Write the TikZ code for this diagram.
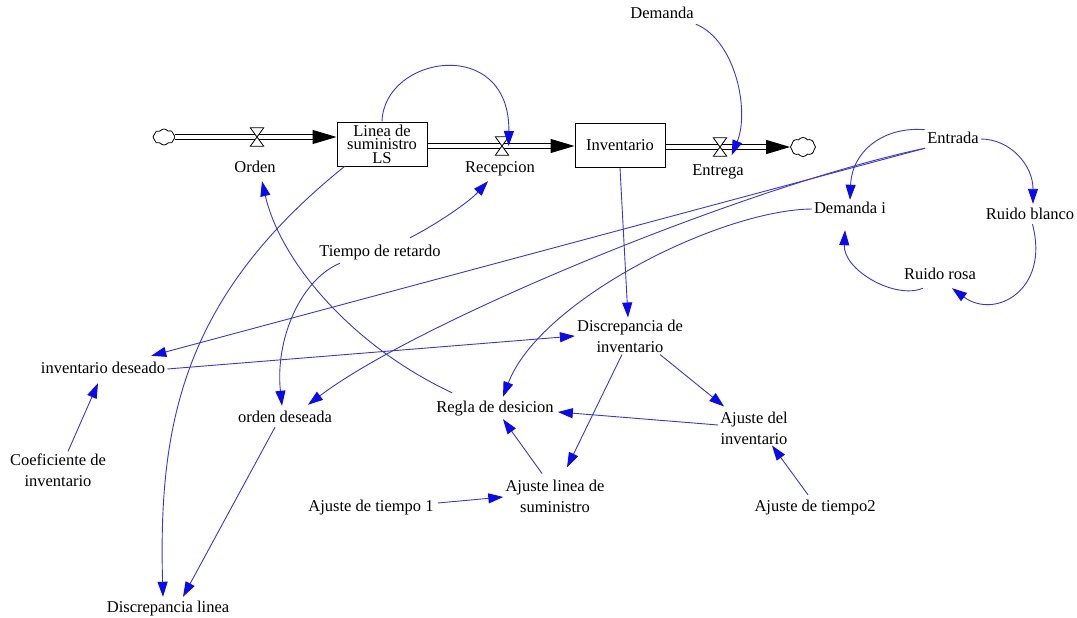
\documentclass[tikz,border=0pt]{standalone}
\usepackage{fontspec}
\setmainfont{Liberation Serif}
\usetikzlibrary{arrows.meta,calc,shapes.symbols}
\definecolor{linkline}{RGB}{55,55,225}
\definecolor{linkhead}{RGB}{10,10,240}
\begin{document}
\begin{tikzpicture}[x=1pt,y=-1pt,
  every node/.style={font=\fontsize{16.5}{21}\selectfont},
  var/.style={inner sep=2pt,text height=11pt,text depth=3pt},
  var2/.style={inner sep=2pt,align=center},
  stock/.style={draw=black,line width=1pt,fill=white,minimum width=90pt,minimum height=44pt,inner sep=0pt,align=center},
  valve/.style={minimum width=13pt,minimum height=18pt,inner sep=0pt},
  sink/.style={cloud,cloud puffs=8,cloud puff arc=110,draw=black,line width=0.8pt,fill=white,minimum width=22pt,minimum height=16pt,inner sep=0pt},
  pipe/.style={draw=black,line width=1.2pt,double=white,double distance=3.5pt,-{Triangle[length=24pt,width=14pt]}},
  link/.style={draw=linkline,line width=0.9pt,-{Triangle[length=15pt,width=10pt,color=linkhead]}},
  valvebody/.style={draw=black,line width=0.8pt,fill=white},
]
\fill[white] (0,0) rectangle (1077,618);
\useasboundingbox (0,0) rectangle (1077,618);

% stocks, flows and sources/sinks
\node[sink] (srcL) at (164,137) {};
\node[valve] (vO) at (257,137) {};
\node[var] (orden) at (255,168) {Orden};
\node[stock,font=\fontsize{16.5}{13.5}\selectfont] (ls) at (382,144) {Linea de\\suministro\\LS};
\node[valve] (vR) at (502,146) {};
\node[var] (recep) at (500,168) {Recepcion};
\node[stock] (inv) at (620,145.5) {Inventario};
\node[valve] (vE) at (720,147) {};
\node[var] (entrega) at (718,171) {Entrega};
\node[sink,minimum width=25pt,minimum height=19pt] (snkR) at (803,147) {};

\draw[pipe] (srcL.east) -- (srcL.east -| ls.west);
\draw[pipe] (ls.east |- vR) -- (inv.west |- vR);
\draw[pipe] (inv.east |- snkR) -- (snkR.west);
\foreach \v in {vO,vR,vE}
  \draw[valvebody] (\v.north west) -- (\v.north east) -- (\v.south west) -- (\v.south east) -- cycle;

% auxiliary variables
\node[var] (demanda) at (662,15) {Demanda};
\node[var] (entrada) at (953,139) {Entrada};
\node[var] (demandai) at (850,209) {Demanda i};
\node[var] (ruidob) at (1030,215) {Ruido blanco};
\node[var] (ruidor) at (940,275) {Ruido rosa};
\node[var] (tiempo) at (380,252) {Tiempo de retardo};
\node[var] (invdes) at (103,369) {inventario deseado};
\node[var] (ordendes) at (285,418) {orden deseada};
\node[var2] (coef) at (58,470) {Coeficiente de\\inventario};
\node[var2] (discinv) at (630,336) {Discrepancia de\\inventario};
\node[var] (regla) at (495,408) {Regla de desicion};
\node[var2] (ajinv) at (754,428) {Ajuste del\\inventario};
\node[var2] (ajlinea) at (555,496) {Ajuste linea de\\suministro};
\node[var] (ajt1) at (371,507) {Ajuste de tiempo 1};
\node[var] (ajt2) at (815,507) {Ajuste de tiempo2};
\node[var] (disclinea) at (168,608) {Discrepancia linea};

% information links
\draw[link] (ls.north) .. controls (384,55) and (510,35) .. (vR.east);
\draw[link] (demanda.south east) .. controls (735,40) and (750,110) .. ($(vE.south east)+(5,-1)$);
\draw[link] (inv.south) -- ($(discinv.north)+(-2,0)$);
\draw[link] (entrada.north west) .. controls (885,126) and (852,150) .. (demandai.north);
\draw[link] (entrada.east) .. controls (1010,139) and (1033,165) .. ($(ruidob.north)+(3,-2)$);
\draw[link] (ruidob.-75) .. controls (1050,290) and (995,320) .. ($(ruidor.south)+(12,4)$);
\draw[link] ($(ruidor.south)+(-17,4)$) .. controls (895,300) and (843,270) .. ($(demandai.south)+(-5,12)$);
\draw[link] (entrada.south west) -- ($(invdes.north east)+(-16,-4)$);
\draw[link] (entrada.south west) .. controls (750,185) and (420,320) .. ($(ordendes.north)+(23,-4)$);
\draw[link] (demandai.west) .. controls (720,210) and (540,300) .. ($(regla.north)+(8,-2)$);
\draw[link] (invdes.east) -- (discinv.west);
\draw[link] ($(tiempo.north)+(30,-5)$) .. controls (435,225) and (468,203) .. ($(recep.south)+(-12,4)$);
\draw[link] ($(tiempo.south)+(-40,2)$) .. controls (300,280) and (275,340) .. ($(ordendes.north)+(-3,-3)$);
\draw[link] ($(regla.north west)+(18,-6)$) .. controls (350,345) and (280,260) .. ($(orden.south)+(7,4)$);
\draw[link] ($(ls.south west)+(8,0)$) .. controls (185,295) and (158,420) .. ($(disclinea.north)+(-5,-2)$);
\draw[link] ($(ordendes.south)+(-10,0)$) -- ($(disclinea.north)+(15,-2)$);
\draw[link] ($(coef.north)+(10,0)$) -- ($(invdes.south)+(-5,5)$);
\draw[link] ($(discinv.south)+(30,0)$) -- ($(ajinv.north west)+(6,-3)$);
\draw[link] ($(discinv.south)+(-8,0)$) -- ($(ajlinea.north)+(12,-10)$);
\draw[link] ($(ajinv.west)+(0,-3)$) -- ($(regla.east)+(2,4)$);
\draw[link] ($(ajlinea.north)+(-13,-4)$) -- ($(regla.south)+(8,2)$);
\draw[link] ($(ajt1.east)+(2,-4)$) -- ($(ajlinea.west)+(0,1)$);
\draw[link] ($(ajt2.north)+(-7,-3)$) -- ($(ajinv.south)+(18,-1)$);
\end{tikzpicture}
\end{document}
